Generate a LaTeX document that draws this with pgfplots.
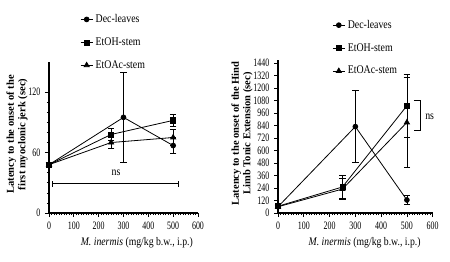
\documentclass[border=0pt]{standalone}
\usepackage{pgfplots}
\pgfplotsset{compat=1.18}
\usepackage{fontspec}
\setmainfont{Liberation Serif}
\newfontfamily\condfont[FakeStretch=0.84]{Liberation Serif}
\newfontfamily\tickfont[FakeStretch=0.7]{Liberation Serif}

\pgfplotstableread{
x y e
0 48 2
300 95 45
500 67 8
}\Ldec
\pgfplotstableread{
x y e
0 48 2
250 78 6
500 92 6
}\Letoh
\pgfplotstableread{
x y e
0 48 2
250 70 6
500 75 8
}\Letoac
\pgfplotstableread{
x y e
0 60 15
300 830 345
500 125 45
}\Rdec
\pgfplotstableread{
x y e
0 65 15
250 250 110
500 1030 305
}\Retoh
\pgfplotstableread{
x y e
0 60 15
250 230 100
500 870 430
}\Retoac

\pgfplotsset{
  myax/.style={
    scale only axis,
    axis x line=bottom, axis y line=left,
    axis line style={-, line width=0.8pt},
    tick align=outside,
    xmin=0, xmax=600, xtick={0,100,...,600},
    minor x tick num=9,
    every tick/.style={black, line width=0.5pt},
    major tick length=3pt, minor tick length=1.6pt,
    ticklabel style={font=\tickfont\fontsize{8.5}{9}\selectfont},
    /pgf/number format/assume math mode=true,
    /pgf/number format/set thousands separator={},
    clip=false,
    xlabel={{\condfont\fontsize{8.7}{9}\selectfont\textit{M. inermis} (mg/kg b.w., i.p.)}},
    ylabel style={font=\bfseries\fontsize{7.9}{8.6}\selectfont, align=center},
    legend style={draw=none, fill=none, anchor=north west, inner sep=0pt,
      font=\condfont\fontsize{8.8}{9}\selectfont, row sep=5.8pt, cells={anchor=west}},
    legend image code/.code={\draw[mark repeat=2,mark phase=2,#1] plot coordinates {(0pt,0pt)(4.5pt,0pt)(9pt,0pt)};},
    every axis plot/.append style={black, line width=0.6pt},
  },
  ser/.style={error bars/.cd, y dir=both, y explicit,
    error bar style={line width=0.5pt, black},
    error mark options={black, mark size=2.4pt, line width=0.5pt, rotate=90}},
}

\begin{document}
\begin{tikzpicture}[x=1pt,y=1pt]
\useasboundingbox (0,0) rectangle (337.5,195.75);

\begin{axis}[myax,
  at={(36.75pt,36pt)}, anchor=south west,
  width=111.75pt, height=113.25pt,
  ymin=0, ymax=150, ytick={0,60,120},
  minor y tick num=5,
  ylabel={Latency to the onset of the\\first myoclonic jerk (sec)},
  ylabel style={at={(axis description cs:-0.215,0.52)}, anchor=center},
  xlabel style={xshift=10pt, yshift=1pt},
  legend style={at={(rel axis cs:0.208,1.335)}},
]
\addplot[mark=*, mark size=1.8pt, ser] table[x=x,y=y,y error=e] {\Ldec};
\addplot[mark=square*, mark size=1.9pt, ser] table[x=x,y=y,y error=e] {\Letoh};
\addplot[mark=triangle*, mark size=2.2pt, ser] table[x=x,y=y,y error=e] {\Letoac};
\legend{Dec-leaves, EtOH-stem, EtOAc-stem}
\draw[line width=0.6pt] (axis cs:12,29) -- (axis cs:520,29);
\draw[line width=0.6pt] (axis cs:12,26) -- (axis cs:12,32);
\draw[line width=0.6pt] (axis cs:520,26) -- (axis cs:520,32);
\node[font=\condfont\fontsize{8.8}{9}\selectfont] at (axis cs:270,40) {ns};
\end{axis}

\begin{axis}[myax,
  at={(208.5pt,36pt)}, anchor=south west,
  width=116pt, height=114.75pt,
  ymin=0, ymax=1470, ytick={0,120,...,1440},
  ylabel={Latency to the onset of the Hind\\Limb Tonic Extension (sec)},
  ylabel style={at={(axis description cs:-0.233,0.52)}, anchor=center},
  xlabel style={xshift=7pt, yshift=1pt},
  legend style={at={(rel axis cs:0.35,1.28)}},
]
\addplot[mark=*, mark size=1.8pt, ser] table[x=x,y=y,y error=e] {\Rdec};
\addplot[mark=square*, mark size=1.9pt, ser] table[x=x,y=y,y error=e] {\Retoh};
\addplot[mark=triangle*, mark size=2.2pt, ser] table[x=x,y=y,y error=e] {\Retoac};
\legend{Dec-leaves, EtOH-stem, EtOAc-stem}
\draw[line width=0.6pt] (axis cs:527,1078) -- (axis cs:551,1078) -- (axis cs:551,790) -- (axis cs:527,790);
\node[anchor=west, font=\condfont\fontsize{8.8}{9}\selectfont] at (axis cs:553,922) {ns};
\end{axis}
\end{tikzpicture}
\end{document}
